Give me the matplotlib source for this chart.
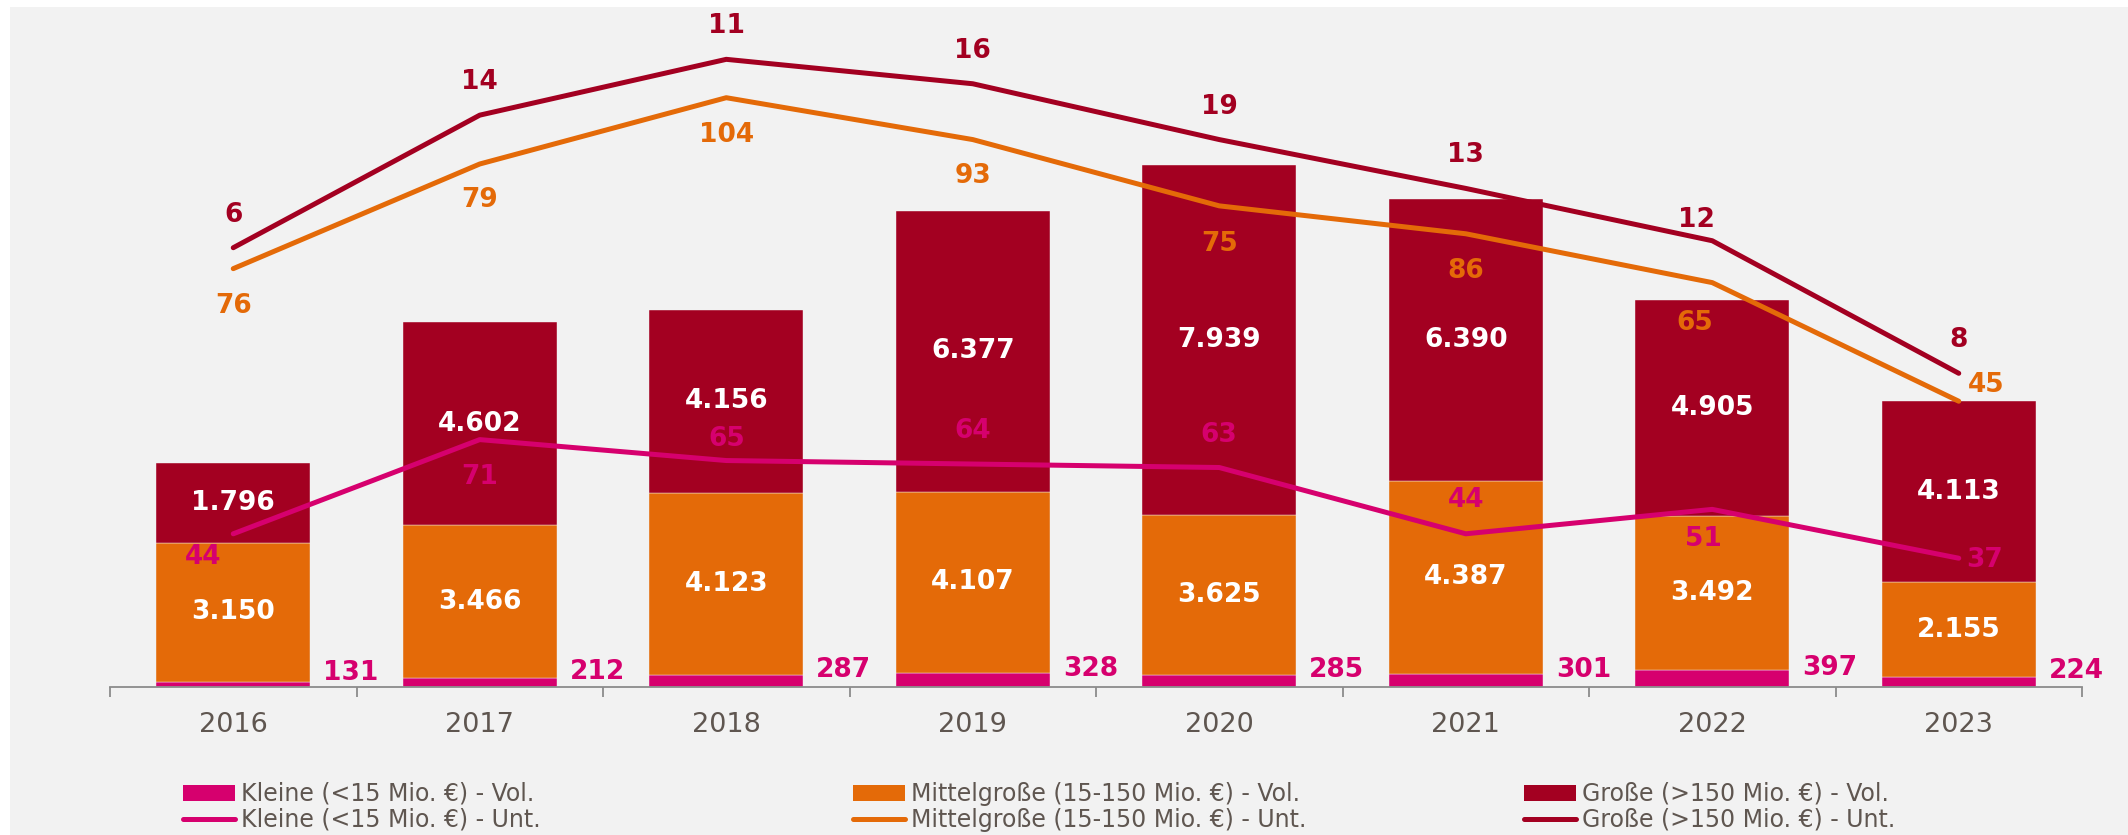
import matplotlib
matplotlib.use("Agg")
import numpy as np
import matplotlib.pyplot as plt
from matplotlib.patches import Patch, Rectangle
from matplotlib.lines import Line2D

# =========================
# Daten
# =========================
years = ["2016", "2017", "2018", "2019", "2020", "2021", "2022", "2023"]

# Volumen (Mio. €)
vol_kleine = [131, 212, 287, 328, 285, 301, 397, 224]
vol_mittel = [3150, 3466, 4123, 4107, 3625, 4387, 3492, 2155]
vol_grosse = [1796, 4602, 4156, 6377, 7939, 6390, 4905, 4113]

# Anzahl Unternehmen
unt_kleine = [44, 71, 65, 64, 63, 44, 51, 37]
unt_mittel = [76, 79, 104, 93, 75, 86, 65, 45]
unt_grosse = [6, 14, 11, 16, 19, 13, 12, 8]

labels_vol = ["Kleine (<15 Mio. €) - Vol.", "Mittelgroße (15-150 Mio. €) - Vol.", "Große (>150 Mio. €) - Vol."]
labels_unt = ["Kleine (<15 Mio. €) - Unt.", "Mittelgroße (15-150 Mio. €) - Unt.", "Große (>150 Mio. €) - Unt."]

# =========================
# Stil
# =========================
C_KLEIN = "#d6006e"
C_MITTEL = "#e46a08"
C_GROSS = "#a30021"
BG = "#f2f2f2"
TXT = "#5f5650"

# Label-Versatz der Linienbeschriftungen in Pixeln (dx, dy nach oben)
off_kleine = [(-30, -23), (0, -37), (0, 22), (0, 33), (0, 33), (0, 34), (-9, -30), (26, -2)]
off_mittel = [(0, -37), (0, -36), (0, -37), (0, -36), (0, -38), (0, -37), (-17, -40), (27, 16)]
off_grosse = [(0, 33), (0, 33), (0, 33), (0, 33), (0, 33), (0, 33), (-16, 21), (0, 33)]


def fmt(v):
    return f"{v:,}".replace(",", ".")


W, H = 2128, 835
fig = plt.figure(figsize=(W / 100, H / 100), dpi=100)
fig.patch.set_facecolor("white")
fig.patches.append(Rectangle((10 / W, 0), 1, (H - 7) / H, transform=fig.transFigure,
                             facecolor=BG, edgecolor="none", zorder=-10))

ax = fig.add_axes([110 / W, (H - 687.3) / H, (2082 - 110) / W, (687.3 - 7) / H])
ax.set_facecolor("none")

x = np.arange(len(years))
bw = 0.625
k = np.array(vol_kleine)
m = np.array(vol_mittel)
g = np.array(vol_grosse)

ax.bar(x, k, bw, color=C_KLEIN, edgecolor=BG, linewidth=0.3, zorder=2)
ax.bar(x, m, bw, bottom=k, color=C_MITTEL, edgecolor=BG, linewidth=0.3, zorder=2)
ax.bar(x, g, bw, bottom=k + m, color=C_GROSS, edgecolor=BG, linewidth=0.3, zorder=2)
ax.set_ylim(0, 15430)
ax.set_xlim(-0.5, len(years) - 0.5)

bold = dict(fontsize=19, fontweight="bold", family="DejaVu Sans")
for i in range(len(years)):
    ax.text(x[i], k[i] + m[i] / 2, fmt(m[i]), ha="center", va="center", color="white", zorder=5, **bold)
    ax.text(x[i], k[i] + m[i] + g[i] / 2, fmt(g[i]), ha="center", va="center", color="white", zorder=5, **bold)
    ax.annotate(fmt(k[i]), xy=(x[i] + bw / 2, k[i] / 2), xytext=(13, 11), textcoords="offset pixels",
                ha="left", va="center", color=C_KLEIN, zorder=5, **bold)

# Achsen
for s in ["top", "right", "left"]:
    ax.spines[s].set_visible(False)
ax.spines["bottom"].set_color("#8c8c8c")
ax.spines["bottom"].set_linewidth(1.3)
ax.set_yticks([])
ax.set_xticks(x)
ax.set_xticklabels(years)
ax.set_xticks(np.arange(-0.5, len(years)), minor=True)
ax.tick_params(axis="x", which="major", length=0, pad=18, labelsize=19.5, labelcolor=TXT)
ax.tick_params(axis="x", which="minor", length=7, width=1.3, color="#8c8c8c", direction="out")

# Linien (kumuliert) auf zweiter Achse
ax2 = ax.twinx()
ax2.set_ylim(0, 195)
ax2.set_yticks([])
for s in ax2.spines.values():
    s.set_visible(False)

c1 = np.array(unt_kleine)
c2 = c1 + np.array(unt_mittel)
c3 = c2 + np.array(unt_grosse)
series = [
    (c1, unt_kleine, C_KLEIN, off_kleine),
    (c2, unt_mittel, C_MITTEL, off_mittel),
    (c3, unt_grosse, C_GROSS, off_grosse),
]
for ys, vals, col, offs in series:
    ax2.plot(x, ys, color=col, lw=3.6, solid_capstyle="round", solid_joinstyle="round", zorder=4)
    for i, v in enumerate(vals):
        ax2.annotate(str(v), xy=(x[i], ys[i]), xytext=offs[i], textcoords="offset pixels",
                     ha="center", va="center", color=col, zorder=6, **bold)

# Legende: drei Spalten, je Volumen + Unternehmen
cols = [C_KLEIN, C_MITTEL, C_GROSS]
xs = [183, 853, 1524]
for j in range(3):
    handles = [Patch(facecolor=cols[j], edgecolor="none"),
               Line2D([0], [0], color=cols[j], lw=3.6, solid_capstyle="round")]
    fig.legend(handles, [labels_vol[j], labels_unt[j]], loc="upper left",
               bbox_to_anchor=(xs[j] / W, (H - 782) / H), frameon=False,
               fontsize=17, labelcolor=TXT, handlelength=2.2, handleheight=0.65,
               handletextpad=0.25, labelspacing=0.08, borderpad=0, borderaxespad=0)

fig.savefig("out.png", dpi=100, facecolor=fig.get_facecolor())
